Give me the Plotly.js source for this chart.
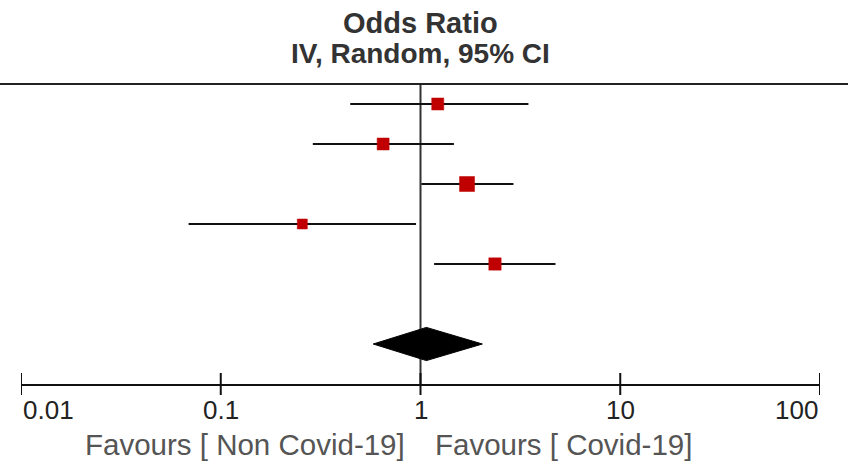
<!DOCTYPE html>
<html>
<head>
<meta charset="utf-8">
<script src="https://cdn.plot.ly/plotly-3.0.1.min.js"></script>
<style>html,body{margin:0;padding:0;background:#fff;}#chart{width:848px;height:462px;}</style>
</head>
<body>
<div id="chart"></div>
<script>
// Study rows (top to bottom)
var studyRows = [1, 2, 3, 4, 5];
var oddsRatio = [1.22, 0.65, 1.71, 0.256, 2.36];
var ciLower = [0.445, 0.289, 1.01, 0.069, 1.17];
var ciUpper = [3.47, 1.47, 2.92, 0.95, 4.74];
var weights = [18.9, 18.7, 29.4, 13.1, 19.9];
// Pooled estimate
var pooledRow = 7;
var pooledOR = 1.07;
var pooledLower = 0.58;
var pooledUpper = 2.04;
// Axis
var tickVals = [0.01, 0.1, 1, 10, 100];
var tickText = ['0.01', '0.1', '1', '10', '100'];
var titleLines = ['Odds Ratio', 'IV, Random, 95% CI'];
var favoursLeft = 'Favours [ Non Covid-19]';
var favoursRight = 'Favours [ Covid-19]';

var FONT = 'Liberation Sans, Arial, sans-serif';

// CI lines
var lx = [], ly = [];
for (var i = 0; i < studyRows.length; i++) {
  lx.push(ciLower[i], ciUpper[i], null);
  ly.push(studyRows[i], studyRows[i], null);
}
var ciTrace = {
  x: lx, y: ly, mode: 'lines', type: 'scatter',
  line: {color: '#111', width: 2}, hoverinfo: 'skip', showlegend: false
};
var pointTrace = {
  x: oddsRatio, y: studyRows, mode: 'markers', type: 'scatter',
  marker: {symbol: 'square', color: '#c00000', opacity: 1,
    size: weights.map(function (w) { return Math.sqrt(w) * 2.77; }),
    line: {width: 0.5, color: '#c00000'}},
  showlegend: false
};
var h = 0.415;
var diamond = {
  x: [pooledLower, pooledOR, pooledUpper, pooledOR, pooledLower],
  y: [pooledRow, pooledRow - h, pooledRow, pooledRow + h, pooledRow],
  mode: 'lines', type: 'scatter', fill: 'toself', fillcolor: '#000',
  line: {color: '#000', width: 1}, showlegend: false
};

var shapes = [
  // reference line at OR = 1
  {type: 'line', xref: 'x', yref: 'paper', x0: 1, x1: 1, y0: 0, y1: 1,
   line: {color: '#333', width: 2}, layer: 'below'},
  // top rule across the page
  {type: 'line', xref: 'paper', yref: 'paper', x0: -0.03, x1: 1.04, y0: 1, y1: 1,
   line: {color: '#222', width: 2}}
];
tickVals.forEach(function (v) {
  shapes.push({type: 'line', xref: 'x', yref: 'paper', ysizemode: 'pixel', yanchor: 0,
    x0: v, x1: v, y0: -11, y1: 11, line: {color: '#111', width: 2}});
});

var annotations = [];
annotations.push({text: '<b>' + titleLines[0] + '</b>', xref: 'paper', yref: 'paper',
  x: 0.5, y: 1, yanchor: 'middle', yshift: 61, showarrow: false,
  font: {family: FONT, size: 29, color: '#333'}});
annotations.push({text: '<b>' + titleLines[1] + '</b>', xref: 'paper', yref: 'paper',
  x: 0.5, y: 1, yanchor: 'middle', yshift: 31, showarrow: false,
  font: {family: FONT, size: 28, color: '#333'}});
tickVals.forEach(function (v, i) {
  var anchor = i === 0 ? 'left' : (i === tickVals.length - 1 ? 'right' : 'center');
  annotations.push({text: tickText[i], xref: 'x', yref: 'paper', x: Math.log10(v), y: 0,
    xanchor: anchor, yanchor: 'middle', yshift: -26, showarrow: false,
    font: {family: FONT, size: 26, color: '#222'}});
});
annotations.push({text: favoursLeft, xref: 'x', yref: 'paper', x: 0, y: 0,
  xanchor: 'right', yanchor: 'middle', yshift: -60, xshift: -14, showarrow: false,
  font: {family: FONT, size: 29.5, color: '#555'}});
annotations.push({text: favoursRight, xref: 'x', yref: 'paper', x: 0, y: 0,
  xanchor: 'left', yanchor: 'middle', yshift: -60, xshift: 12, showarrow: false,
  font: {family: FONT, size: 29.5, color: '#555'}});

var layout = {
  width: 848, height: 462,
  margin: {l: 21, r: 28, t: 84, b: 78},
  paper_bgcolor: '#fff', plot_bgcolor: '#fff',
  xaxis: {type: 'log', range: [-2, 2], showgrid: false, zeroline: false,
    showline: true, linecolor: '#111', linewidth: 2, ticks: '', showticklabels: false,
    fixedrange: true},
  yaxis: {range: [8.0, 0.5], showgrid: false, zeroline: false, showline: false,
    showticklabels: false, ticks: '', fixedrange: true},
  shapes: shapes,
  annotations: annotations,
  showlegend: false
};

Plotly.newPlot('chart', [ciTrace, diamond, pointTrace], layout, {displayModeBar: false, staticPlot: true});
</script>
</body>
</html>
